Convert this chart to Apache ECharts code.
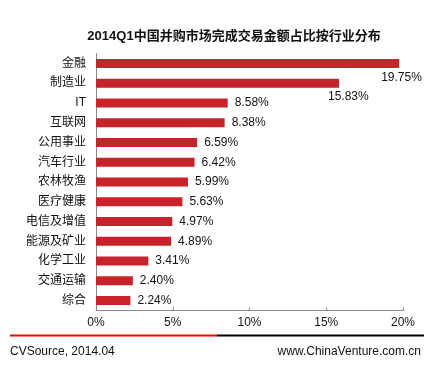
<!DOCTYPE html>
<html><head><meta charset="utf-8">
<script src="https://cdn.jsdelivr.net/npm/echarts@6/dist/echarts.min.js"></script>
<style>html,body{margin:0;padding:0;background:#fff}#c{width:432px;height:366px}</style>
</head><body><div id="c"></div>
<script>
var categories = ['金融','制造业','IT','互联网','公用事业','汽车行业','农林牧渔','医疗健康','电信及增值','能源及矿业','化学工业','交通运输','综合'];
var values = [19.75, 15.83, 8.58, 8.38, 6.59, 6.42, 5.99, 5.63, 4.97, 4.89, 3.41, 2.40, 2.24];
var xTicks = [0, 5, 10, 15, 20];
var titleText = '2014Q1中国并购市场完成交易金额占比按行业分布';
var sourceText = 'CVSource, 2014.04';
var siteText = 'www.ChinaVenture.com.cn';

var font = 'Liberation Sans, Arial, Noto Sans CJK SC, sans-serif';
var labelOffsets = {0: [-23, 14], 1: [-16, 14]};
var data = values.map(function (v, i) {
  var item = {value: v};
  if (labelOffsets[i]) item.label = {offset: labelOffsets[i], distance: 5};
  return item;
});
var chart = echarts.init(document.getElementById('c'), null, {renderer: 'canvas'});
chart.setOption({
  animation: false,
  backgroundColor: '#fff',
  textStyle: {fontFamily: font},
  title: {text: titleText, left: 229, top: 25, textAlign: 'center',
    textStyle: {fontSize: 13, fontWeight: 'bold', color: '#111', fontFamily: font}},
  grid: {left: 96, right: 29, top: 53.5, bottom: 55.5, containLabel: false},
  xAxis: {type: 'value', min: xTicks[0], max: xTicks[xTicks.length - 1], interval: 5,
    axisLine: {show: true, lineStyle: {color: '#888', width: 1}},
    axisTick: {show: true, inside: true, length: 3, lineStyle: {color: '#888'}},
    splitLine: {show: false},
    axisLabel: {formatter: '{value}%', fontSize: 12, color: '#111', margin: 6, fontFamily: font}},
  yAxis: {type: 'category', data: categories, inverse: true,
    axisLine: {show: true, lineStyle: {color: '#888', width: 1}},
    axisTick: {show: false},
    axisLabel: {fontSize: 12, color: '#111', margin: 10, fontFamily: font}},
  series: [{type: 'bar', data: data, barWidth: 9,
    itemStyle: {color: '#C8222B'},
    label: {show: true, position: 'right', distance: 7, fontSize: 12, color: '#111', fontFamily: font,
      formatter: function (p) { return p.value.toFixed(2) + '%'; }}}],
  graphic: [
    {type: 'rect', shape: {x: 10, y: 334.5, width: 207, height: 2}, style: {fill: '#FF0000'}},
    {type: 'rect', shape: {x: 217, y: 334.5, width: 207, height: 2}, style: {fill: '#000'}},
    {type: 'text', left: 10, top: 346, style: {text: sourceText, fontSize: 12, fill: '#111', fontFamily: font}},
    {type: 'text', right: 11, top: 346, style: {text: siteText, fontSize: 12, fill: '#111', fontFamily: font}}
  ]
});
</script></body></html>
